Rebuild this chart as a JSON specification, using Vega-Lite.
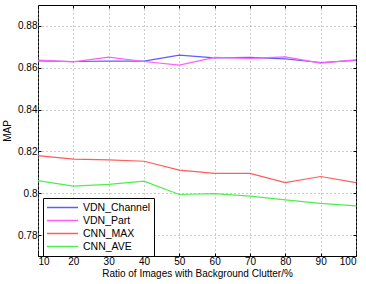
{
  "$schema": "https://vega.github.io/schema/vega-lite/v6.json",
  "width": 318,
  "height": 251,
  "autosize": {"type": "none"},
  "padding": {"left": 38, "top": 5, "right": 10, "bottom": 28},
  "background": "white",
  "config": {
    "view": {"stroke": "black", "strokeWidth": 1},
    "font": "Liberation Sans",
    "axis": {"labelFont": "Liberation Sans", "titleFont": "Liberation Sans", "labelFontSize": 10, "titleFontSize": 10, "titleFontWeight": "normal", "labelColor": "black", "titleColor": "black", "domain": false, "tickColor": "black", "tickSize": -3}
  },
  "data": {"values": [
    {"x": 10, "s": "VDN_Channel", "v": 0.8633},
    {"x": 20, "s": "VDN_Channel", "v": 0.8630},
    {"x": 30, "s": "VDN_Channel", "v": 0.8632},
    {"x": 40, "s": "VDN_Channel", "v": 0.8632},
    {"x": 50, "s": "VDN_Channel", "v": 0.8660},
    {"x": 60, "s": "VDN_Channel", "v": 0.8647},
    {"x": 70, "s": "VDN_Channel", "v": 0.8650},
    {"x": 80, "s": "VDN_Channel", "v": 0.8642},
    {"x": 90, "s": "VDN_Channel", "v": 0.8625},
    {"x": 100, "s": "VDN_Channel", "v": 0.8635},
    {"x": 10, "s": "VDN_Part", "v": 0.8636},
    {"x": 20, "s": "VDN_Part", "v": 0.8628},
    {"x": 30, "s": "VDN_Part", "v": 0.8651},
    {"x": 40, "s": "VDN_Part", "v": 0.8630},
    {"x": 50, "s": "VDN_Part", "v": 0.8613},
    {"x": 60, "s": "VDN_Part", "v": 0.8650},
    {"x": 70, "s": "VDN_Part", "v": 0.8645},
    {"x": 80, "s": "VDN_Part", "v": 0.8652},
    {"x": 90, "s": "VDN_Part", "v": 0.8622},
    {"x": 100, "s": "VDN_Part", "v": 0.8638},
    {"x": 10, "s": "CNN_MAX", "v": 0.8180},
    {"x": 20, "s": "CNN_MAX", "v": 0.8163},
    {"x": 30, "s": "CNN_MAX", "v": 0.8160},
    {"x": 40, "s": "CNN_MAX", "v": 0.8153},
    {"x": 50, "s": "CNN_MAX", "v": 0.8111},
    {"x": 60, "s": "CNN_MAX", "v": 0.8095},
    {"x": 70, "s": "CNN_MAX", "v": 0.8095},
    {"x": 80, "s": "CNN_MAX", "v": 0.8051},
    {"x": 90, "s": "CNN_MAX", "v": 0.8080},
    {"x": 100, "s": "CNN_MAX", "v": 0.8051},
    {"x": 10, "s": "CNN_AVE", "v": 0.8060},
    {"x": 20, "s": "CNN_AVE", "v": 0.8034},
    {"x": 30, "s": "CNN_AVE", "v": 0.8042},
    {"x": 40, "s": "CNN_AVE", "v": 0.8058},
    {"x": 50, "s": "CNN_AVE", "v": 0.7994},
    {"x": 60, "s": "CNN_AVE", "v": 0.7998},
    {"x": 70, "s": "CNN_AVE", "v": 0.7986},
    {"x": 80, "s": "CNN_AVE", "v": 0.7968},
    {"x": 90, "s": "CNN_AVE", "v": 0.7952},
    {"x": 100, "s": "CNN_AVE", "v": 0.7940}
  ]},
  "layer": [
    {
      "mark": {"type": "line", "strokeWidth": 1, "opacity": 0},
      "encoding": {
        "x": {"field": "x", "type": "quantitative", "scale": {"domain": [10, 100], "nice": false},
          "axis": {"orient": "top", "values": [10,20,30,40,50,60,70,80,90,100], "labels": false, "grid": false, "title": null}},
        "y": {"field": "v", "type": "quantitative", "scale": {"domain": [0.77, 0.89], "nice": false, "zero": false},
          "axis": {"orient": "right", "values": [0.78,0.8,0.82,0.84,0.86,0.88], "labels": false, "grid": false, "title": null}},
        "detail": {"field": "s"}
      }
    },
    {
      "mark": {"type": "line", "strokeWidth": 1.2},
      "encoding": {
        "x": {"field": "x", "type": "quantitative", "scale": {"domain": [10, 100], "nice": false},
          "axis": {"orient": "bottom", "values": [10,20,30,40,50,60,70,80,90,100], "title": "Ratio of Images with Background Clutter/%", "titlePadding": 2, "labelPadding": 3, "grid": true, "gridColor": "#999999", "gridDash": [1, 3], "gridWidth": 1}},
        "y": {"field": "v", "type": "quantitative", "scale": {"domain": [0.77, 0.89], "nice": false, "zero": false},
          "axis": {"orient": "left", "values": [0.78,0.8,0.82,0.84,0.86,0.88], "format": "~g", "title": "MAP", "titlePadding": 5, "labelPadding": 4, "grid": true, "gridColor": "#999999", "gridDash": [1, 3], "gridWidth": 1}},
        "color": {"field": "s", "type": "nominal",
          "scale": {"domain": ["VDN_Channel", "VDN_Part", "CNN_MAX", "CNN_AVE"], "range": ["#5c5cff", "#ff5cff", "#ff5c5c", "#4cf04c"]},
          "legend": {"title": null, "orient": "none", "legendX": 5, "legendY": 193, "symbolType": "stroke", "symbolSize": 961, "symbolStrokeWidth": 1.5, "clipHeight": 13, "labelFontSize": 10.5, "labelFont": "Liberation Sans", "labelColor": "black", "strokeColor": "black", "fillColor": "white", "padding": 3, "rowPadding": 0, "labelOffset": 4}}
      }
    }
  ],
  "resolve": {"axis": {"x": "independent", "y": "independent"}}
}
